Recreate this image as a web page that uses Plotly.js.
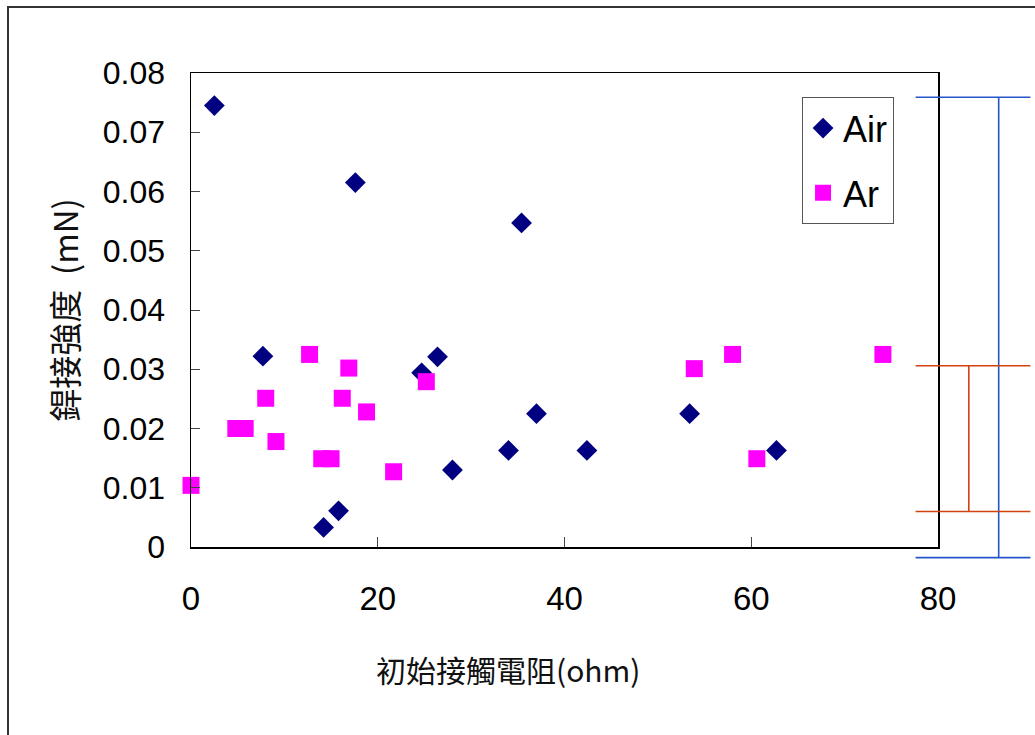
<!DOCTYPE html>
<html>
<head>
<meta charset="utf-8">
<script src="https://cdn.plot.ly/plotly-3.0.1.min.js"></script>
<style>
  html, body { margin: 0; padding: 0; background: #fff; }
  #wrap { position: relative; width: 1035px; height: 735px; overflow: hidden; }
  #chart { position: absolute; left: 0; top: 0; width: 1035px; height: 735px; }
  #frame {
    position: absolute; left: 7px; top: 6px; width: 1040px; height: 740px;
    border-left: 2px solid #333; border-top: 2px solid #333;
    pointer-events: none;
  }
</style>
</head>
<body>
<div id="wrap">
  <div id="chart"></div>
  <div id="frame"></div>
</div>
<script>
// Initial contact resistance (ohm) vs. weld strength (mN)
const airResistance = [2.5, 17.6, 35.4, 7.7, 14.2, 15.8, 24.7, 26.4, 37.0, 34.0, 42.4, 28.0, 53.4, 62.7];
const airStrength   = [0.0745, 0.0615, 0.0547, 0.0322, 0.0033, 0.0061, 0.0294, 0.0321, 0.0225, 0.0163, 0.0163, 0.0130, 0.0225, 0.0163];

const arResistance = [0.0, 4.8, 5.8, 8.0, 9.1, 12.7, 14.0, 15.0, 16.2, 16.9, 18.8, 21.7, 25.2, 53.9, 58.0, 60.6, 74.1];
const arStrength   = [0.0104, 0.0200, 0.0200, 0.0251, 0.0178, 0.0325, 0.0149, 0.0149, 0.0251, 0.0302, 0.0228, 0.0127, 0.0279, 0.0301, 0.0325, 0.0149, 0.0325];

const seriesNames = ['Air', 'Ar'];

const xTickVals = [0, 20, 40, 60, 80];
const xTickText = ['0', '20', '40', '60', '80'];
const yTickVals = [0, 0.01, 0.02, 0.03, 0.04, 0.05, 0.06, 0.07, 0.08];
const yTickText = ['0', '0.01', '0.02', '0.03', '0.04', '0.05', '0.06', '0.07', '0.08'];

// Spread bars drawn to the right of the plot area (blue: Air, red: Ar)
const spreadHigh  = [0.0759, 0.0306];
const spreadLow   = [-0.0018, 0.0060];
const spreadStemX = [86.5, 83.3];
const spreadCapX0 = [77.6, 77.6];
const spreadCapX1 = [89.9, 89.9];
const spreadColors = ['#2456c8', '#d2420f'];

const X_RANGE = [0, 80];
const Y_RANGE = [0, 0.08];

// map data values to paper fractions so the bars can sit outside the axes
const px = v => (v - X_RANGE[0]) / (X_RANGE[1] - X_RANGE[0]);
const py = v => (v - Y_RANGE[0]) / (Y_RANGE[1] - Y_RANGE[0]);

const shapes = [];
for (let i = 0; i < spreadHigh.length; i++) {
  const line = { color: spreadColors[i], width: 1.6 };
  shapes.push({ type: 'line', xref: 'paper', yref: 'paper',
    x0: px(spreadCapX0[i]), x1: px(spreadCapX1[i]), y0: py(spreadHigh[i]), y1: py(spreadHigh[i]), line });
  shapes.push({ type: 'line', xref: 'paper', yref: 'paper',
    x0: px(spreadCapX0[i]), x1: px(spreadCapX1[i]), y0: py(spreadLow[i]), y1: py(spreadLow[i]), line });
  shapes.push({ type: 'line', xref: 'paper', yref: 'paper',
    x0: px(spreadStemX[i]), x1: px(spreadStemX[i]), y0: py(spreadLow[i]), y1: py(spreadHigh[i]), line });
}

const traces = [
  {
    x: airResistance, y: airStrength, name: seriesNames[0],
    type: 'scatter', mode: 'markers', legendgroup: 'a',
    marker: { symbol: 'diamond', size: 16, color: '#000080', line: { width: 0 } },
    cliponaxis: false
  },
  {
    x: arResistance, y: arStrength, name: seriesNames[1],
    type: 'scatter', mode: 'markers', legendgroup: 'b',
    marker: { symbol: 'square', size: 17, color: '#ff00ff', line: { width: 0 } },
    cliponaxis: false
  }
];

const layout = {
  width: 1035, height: 735,
  margin: { l: 191, r: 97, t: 73, b: 188, pad: 0 },
  paper_bgcolor: '#ffffff',
  plot_bgcolor: '#ffffff',
  showlegend: true,
  font: { family: '"Liberation Sans", Arial, sans-serif', color: '#000' },
  xaxis: {
    range: X_RANGE,
    tickvals: xTickVals, ticktext: xTickText,
    ticks: 'inside', ticklen: 10, tickwidth: 1, tickcolor: '#444',
    ticklabelstandoff: 22,
    tickfont: { family: '"Liberation Sans Narrow", "Liberation Sans", Arial, sans-serif', size: 33, color: '#000' },
    showline: true, linecolor: '#000', linewidth: 1.5, mirror: true,
    showgrid: false, zeroline: false, fixedrange: true
  },
  yaxis: {
    range: Y_RANGE,
    tickvals: yTickVals, ticktext: yTickText,
    ticks: 'inside', ticklen: 9, tickwidth: 1, tickcolor: '#444',
    ticklabelstandoff: 18,
    tickfont: { family: '"Liberation Sans", Arial, sans-serif', size: 32, color: '#000' },
    showline: true, linecolor: '#000', linewidth: 1.5, mirror: true,
    showgrid: false, zeroline: false, fixedrange: true,
    title: {
      text: '銲接強度\u00a0 (mN)',
      font: { family: '"Noto Sans CJK TC", "Liberation Sans", sans-serif', size: 33, color: '#111' },
      standoff: 14
    }
  },
  legend: {
    x: 0.818, y: 0.949, xanchor: 'left', yanchor: 'top',
    bgcolor: '#ffffff', bordercolor: '#555', borderwidth: 1,
    traceorder: 'grouped', tracegroupgap: 15,
    font: { family: '"Liberation Sans", Arial, sans-serif', size: 36, color: '#000' },
    itemsizing: 'trace'
  },
  annotations: [{
    text: '初始接觸電阻(ohm)',
    xref: 'paper', yref: 'paper',
    x: 0.4246, y: -0.258, xanchor: 'center', yanchor: 'middle',
    showarrow: false,
    font: { family: '"Noto Sans CJK TC", "Liberation Sans", sans-serif', size: 30, color: '#111' }
  }],
  shapes
};

Plotly.newPlot('chart', traces, layout, { displayModeBar: false, staticPlot: true });
</script>
</body>
</html>
